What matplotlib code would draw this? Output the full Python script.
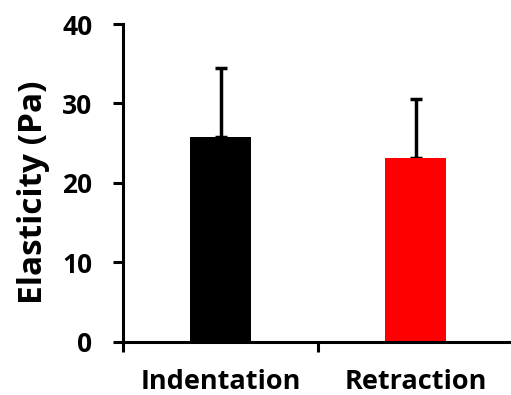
import matplotlib
matplotlib.use("Agg")
import matplotlib.pyplot as plt

categories = ["Indentation", "Retraction"]
values = [25.8, 23.1]
errors = [8.7, 7.4]
colors = ["#000000", "#ff0000"]
yticks = [0, 10, 20, 30, 40]

plt.rcParams['font.family'] = ['Open Sans', 'DejaVu Sans']

fig = plt.figure(figsize=(5.11, 3.95), dpi=100)
ax = fig.add_axes([123/511, (395-341.5)/395, 390/511, 317.5/395])

x = list(range(len(categories)))
ax.bar(x, values, width=0.31, color=colors, zorder=2)
ax.errorbar(x, values, yerr=[[0]*len(errors), errors], fmt='none', ecolor='black',
            elinewidth=2.5, capsize=4, capthick=2.5, zorder=1)

ax.set_xlim(-0.5, 1.5)
ax.set_ylim(0, 40)
ax.set_yticks(yticks)
ax.set_xticks([-0.5, 0.5, 1.5])
ax.set_xticklabels([])
ax.set_xticks(x, minor=True)
ax.set_xticklabels(categories, minor=True, fontsize=19.5, fontweight='bold')
ax.tick_params(axis='x', which='minor', length=0, pad=20)
ax.tick_params(axis='x', which='major', length=7, width=2.2, direction='out')
ax.tick_params(axis='y', length=7, width=2.2, direction='out', labelsize=19, pad=15)
for lab in ax.get_yticklabels():
    lab.set_fontweight('bold')

for s in ['top', 'right']:
    ax.spines[s].set_visible(False)
for s in ['left', 'bottom']:
    ax.spines[s].set_linewidth(2.2)

ax.set_ylabel("Elasticity (Pa)", fontsize=24, fontweight='bold', labelpad=9)
ax.yaxis.label.set_y(0.47)

fig.savefig("out.png", dpi=100)
